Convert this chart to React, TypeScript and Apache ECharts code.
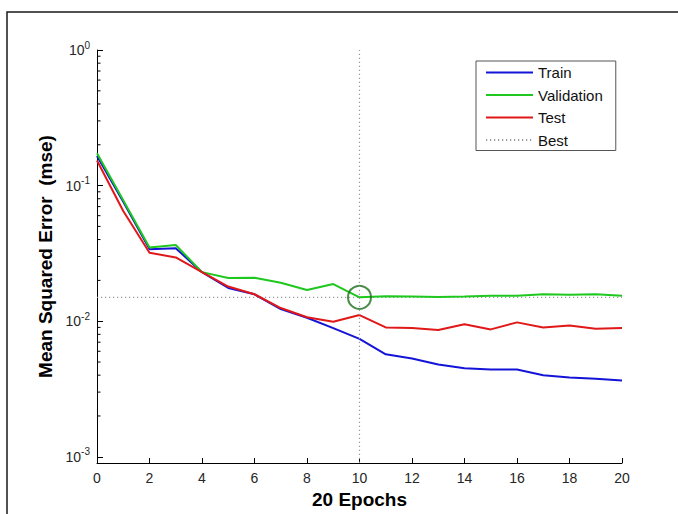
import React, { useEffect, useRef } from 'react';
import * as echarts from 'echarts';

// Training record: mean squared error per epoch
const epochs = [0, 1, 2, 3, 4, 5, 6, 7, 8, 9, 10, 11, 12, 13, 14, 15, 16, 17, 18, 19, 20];
const trainMse = [
  0.165, 0.076, 0.034, 0.0345, 0.023, 0.0176, 0.0158, 0.0123, 0.0106, 0.0089, 0.0074,
  0.0057, 0.0053, 0.0048, 0.0045, 0.0044, 0.0044, 0.0040, 0.00385, 0.00376, 0.00365,
];
const validationMse = [
  0.173, 0.078, 0.035, 0.0365, 0.023, 0.0208, 0.0209, 0.0192, 0.017, 0.0188, 0.015,
  0.0153, 0.0152, 0.0151, 0.0152, 0.0154, 0.0154, 0.0158, 0.0157, 0.0158, 0.0154,
];
const testMse = [
  0.153, 0.065, 0.032, 0.0295, 0.023, 0.018, 0.0158, 0.0125, 0.0107, 0.0099, 0.0111,
  0.009, 0.0089, 0.0086, 0.0095, 0.0087, 0.0098, 0.009, 0.0093, 0.0088, 0.0089,
];
const bestEpoch = 10;
const bestMse = validationMse[bestEpoch];

// Minor ticks of the logarithmic error axis
const yMinorTicks = [
  0.002, 0.003, 0.004, 0.005, 0.006, 0.007, 0.008, 0.009,
  0.02, 0.03, 0.04, 0.05, 0.06, 0.07, 0.08, 0.09,
  0.2, 0.3, 0.4, 0.5, 0.6, 0.7, 0.8, 0.9,
];

const FONT = '"Liberation Sans", Arial, Helvetica, sans-serif';
const BLUE = '#1414d8';
const GREEN = '#1ec81e';
const RED = '#e01818';
const BEST = '#9a9a9a';
const NO_FILL = 'rgba(0,0,0,0)';

const toPairs = (ys: number[]) => epochs.map((e, i) => [e, ys[i]]);

export default function App() {
  const ref = useRef<HTMLDivElement>(null);

  useEffect(() => {
    if (!ref.current) return;
    const chart = echarts.init(ref.current, undefined, { renderer: 'svg' });

    chart.setOption({
      animation: false,
      backgroundColor: '#ffffff',
      textStyle: { fontFamily: FONT },
      grid: { left: 97, right: 56, top: 50, bottom: 51, containLabel: false },
      graphic: [
        {
          type: 'rect',
          silent: true,
          z: -1,
          shape: { x: 7, y: 12, width: 720, height: 600 },
          style: { fill: 'none', stroke: '#1a1a1a', lineWidth: 1.5 },
        },
      ],
      legend: {
        data: ['Train', 'Validation', 'Test', 'Best'],
        orient: 'vertical',
        left: 476,
        top: 61,
        padding: [4, 13, 3, 9],
        itemWidth: 47,
        itemHeight: 15,
        itemGap: 7.5,
        borderColor: '#555',
        borderWidth: 1,
        backgroundColor: '#ffffff',
        selectedMode: false,
        // line-only keys: hide the marker drawn on each key line
        itemStyle: { color: NO_FILL, borderColor: NO_FILL, borderWidth: 0 },
        textStyle: { fontSize: 15, color: '#111', fontFamily: FONT, lineHeight: 15 },
      },
      xAxis: {
        type: 'value',
        min: 0,
        max: 20,
        interval: 2,
        name: '20 Epochs',
        nameLocation: 'middle',
        nameGap: 22,
        nameTextStyle: { fontSize: 19, fontWeight: 'bold', color: '#000', fontFamily: FONT },
        axisLine: { show: true, onZero: false, lineStyle: { color: '#000', width: 1 } },
        axisTick: { show: true, inside: true, length: 5, lineStyle: { color: '#000' } },
        axisLabel: { fontSize: 14, color: '#262626', margin: 8, fontFamily: FONT },
        splitLine: { show: false },
      },
      yAxis: {
        type: 'log',
        logBase: 10,
        min: 0.0009,
        max: 1,
        name: 'Mean Squared Error  (mse)',
        nameLocation: 'middle',
        nameGap: 41,
        nameTextStyle: { fontSize: 19, fontWeight: 'bold', color: '#000', fontFamily: FONT },
        axisLine: { show: true, lineStyle: { color: '#000', width: 1 } },
        axisTick: { show: true, inside: true, length: 6, lineStyle: { color: '#000' } },
        splitLine: { show: false },
        axisLabel: {
          margin: 7,
          formatter: (v: number) => {
            const p = Math.log10(v);
            const e = Math.round(p);
            if (Math.abs(p - e) > 1e-6) return '';
            return `{b|10}{e|${e}}`;
          },
          rich: {
            b: { fontSize: 14, color: '#262626', fontFamily: FONT },
            e: { fontSize: 10, color: '#262626', fontFamily: FONT, padding: [0, 0, 10, 0] },
          },
        },
      },
      series: [
        {
          name: 'Train',
          type: 'line',
          data: toPairs(trainMse),
          symbol: 'none',
          lineStyle: { color: BLUE, width: 2 },
          itemStyle: { color: BLUE },
        },
        {
          name: 'Validation',
          type: 'line',
          data: toPairs(validationMse),
          symbol: 'none',
          lineStyle: { color: GREEN, width: 2 },
          itemStyle: { color: GREEN },
        },
        {
          name: 'Test',
          type: 'line',
          data: toPairs(testMse),
          symbol: 'none',
          lineStyle: { color: RED, width: 2 },
          itemStyle: { color: RED },
        },
        {
          name: 'Best',
          type: 'line',
          data: [
            [epochs[0], bestMse],
            [epochs[epochs.length - 1], bestMse],
          ],
          symbol: 'none',
          z: 1,
          lineStyle: { color: BEST, width: 1.2, type: [1.2, 2.8] },
          itemStyle: { color: BEST },
          markLine: {
            silent: true,
            symbol: ['none', 'none'],
            label: { show: false },
            lineStyle: { color: BEST, width: 1.2, type: [1.2, 2.8] },
            data: [{ xAxis: bestEpoch }],
          },
        },
        {
          name: 'BestPoint',
          type: 'scatter',
          data: [[bestEpoch, bestMse]],
          symbol: 'circle',
          symbolSize: 23,
          z: 4,
          itemStyle: { color: NO_FILL, borderColor: '#1b6e1b', borderWidth: 2 },
        },
        {
          name: 'minorTicks',
          type: 'custom',
          coordinateSystem: 'cartesian2d',
          silent: true,
          clip: false,
          data: yMinorTicks.map((v) => [epochs[0], v]),
          renderItem: (_params: any, api: any) => {
            const p = api.coord([api.value(0), api.value(1)]);
            return {
              type: 'line',
              shape: { x1: p[0], y1: p[1], x2: p[0] + 3.5, y2: p[1] },
              style: { stroke: '#000', lineWidth: 1 },
            };
          },
        },
      ],
    });

    return () => chart.dispose();
  }, []);

  return (
    <div
      ref={ref}
      style={{ position: 'fixed', left: 0, top: 0, width: 678, height: 514, background: '#fff' }}
    />
  );
}
